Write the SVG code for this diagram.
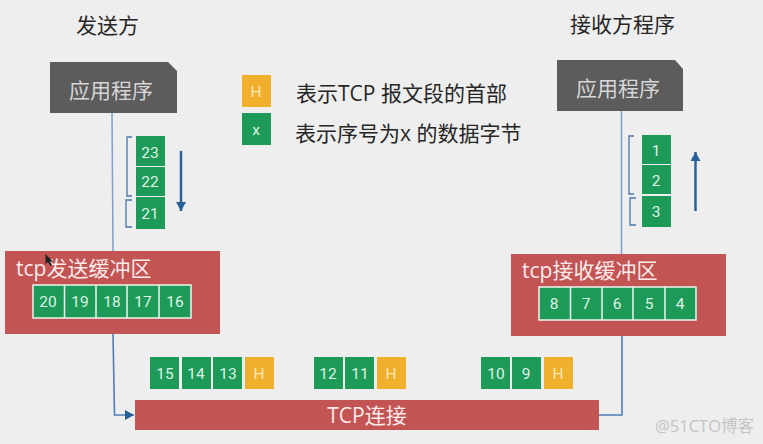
<svg xmlns="http://www.w3.org/2000/svg" width="763" height="444" viewBox="0 0 763 444">
<style>
text{font-family:"Open Sans","Noto Sans CJK SC",sans-serif}
.g{fill:#1e9a58}
.y{fill:#f0b02c}
.r{fill:#c25454}
.d{fill:#5c5c5c}
.c{fill:#dff3e6;font-size:15.500px;font-family:Roboto,sans-serif;text-anchor:middle}
.h{fill:#fae6b8;font-size:15.500px;font-family:Roboto,sans-serif;text-anchor:middle}
.b{fill:#fbeaea;font-size:21px}
.a{fill:#d6d6d6;font-size:21px;text-anchor:middle}
.t{fill:#262626;font-size:21px}
.w{fill:none;stroke:#eef5f0;stroke-width:1.5}
.l{fill:none;stroke:#7f9fcc;stroke-width:1.5}
.n{fill:none;stroke:#4f7cb8;stroke-width:1.6}
.k{fill:none;stroke:#4a76a8;stroke-width:1.3}
.s{fill:none;stroke:#2a6099;stroke-width:2.5}
</style>
<defs>
<marker id="m" markerUnits="userSpaceOnUse" markerWidth="10" markerHeight="10" refX="9" refY="5" orient="auto"><path d="M0 0L9 5L0 10Z" fill="#2a6099"/></marker>
</defs>
<rect width="763" height="444" fill="#eeeeef"/>
<g id="connectors">
<path class="l" d="M112 113L113 251"/>
<path class="n" d="M113 334L114.500 415H134" marker-end="url(#m)"/>
<path class="l" d="M621.500 111V254"/>
<path class="n" d="M622 336V415H599"/>
<path class="s" d="M181 151V211" marker-end="url(#m)"/>
<path class="s" d="M695.500 211V152" marker-end="url(#m)"/>
<path class="k" d="M132 137H127V196H132M132 200H126V227H132"/>
<path class="k" d="M634 136H629V194H634M636 198H630V225H636"/>
</g>
<g id="sender-title"><text class="t" x="76" y="33">发送方</text></g>
<g id="receiver-title"><text class="t" x="570" y="32">接收方程序</text></g>
<g id="sender-app"><path class="d" d="M50 62H168L177 71V113H50Z"/><text class="a" x="111" y="98">应用程序</text></g>
<g id="receiver-app"><path class="d" d="M557 60H675L683 69V111H557Z"/><text class="a" x="618" y="96">应用程序</text></g>
<g id="legend">
<rect class="y" x="242" y="75" width="29" height="32"/><text class="h" x="256" y="97">H</text>
<rect class="g" x="242" y="113" width="29" height="32"/><text class="c" x="256" y="135">x</text>
<text class="t" x="296" y="101">表示TCP 报文段的首部</text>
<text class="t" x="295" y="141">表示序号为x 的数据字节</text>
</g>
<g id="sender-stack">
<rect class="g" x="136" y="136" width="29" height="30"/><text class="c" x="150" y="158">23</text>
<rect class="g" x="136" y="167" width="29" height="29"/><text class="c" x="150" y="187">22</text>
<rect class="g" x="136" y="197" width="29" height="32"/><text class="c" x="150" y="219">21</text>
</g>
<g id="receiver-stack">
<rect class="g" x="642" y="135" width="29" height="29"/><text class="c" x="656" y="156">1</text>
<rect class="g" x="642" y="165" width="29" height="29"/><text class="c" x="656" y="186">2</text>
<rect class="g" x="642" y="196" width="29" height="31"/><text class="c" x="656" y="217">3</text>
</g>
<g id="send-buffer">
<rect class="r" x="5" y="251" width="215" height="83"/>
<text class="b" x="16" y="276">tcp发送缓冲区</text>
<g id="send-cells">
<rect class="g" x="33" y="285" width="158" height="33"/>
<path class="w" d="M33 285H191V318H33ZM64.500 285V318M96 285V318M127 285V318M159 285V318"/>
<text class="c" x="48" y="307">20</text><text class="c" x="80" y="307">19</text><text class="c" x="112" y="307">18</text><text class="c" x="143" y="307">17</text><text class="c" x="175" y="307">16</text>
</g>
</g>
<g id="receive-buffer">
<rect class="r" x="511" y="254" width="215" height="82"/>
<text class="b" x="522" y="278">tcp接收缓冲区</text>
<g id="receive-cells">
<rect class="g" x="539" y="287" width="158" height="33"/>
<path class="w" d="M539 287H696V320H539ZM570.500 287V320M602 287V320M633 287V320M665 287V320"/>
<text class="c" x="554" y="309">8</text><text class="c" x="586" y="309">7</text><text class="c" x="617" y="309">6</text><text class="c" x="649" y="309">5</text><text class="c" x="680" y="309">4</text>
</g>
</g>
<g id="segment-1">
<rect class="g" x="150" y="357" width="29" height="32"/><text class="c" x="165" y="379">15</text>
<rect class="g" x="182" y="357" width="29" height="32"/><text class="c" x="196" y="379">14</text>
<rect class="g" x="213" y="357" width="29" height="32"/><text class="c" x="228" y="379">13</text>
<rect class="y" x="245" y="357" width="29" height="32"/><text class="h" x="259" y="379">H</text>
</g>
<g id="segment-2">
<rect class="g" x="314" y="357" width="29" height="32"/><text class="c" x="328" y="379">12</text>
<rect class="g" x="345" y="357" width="29" height="32"/><text class="c" x="360" y="379">11</text>
<rect class="y" x="377" y="357" width="29" height="32"/><text class="h" x="391" y="379">H</text>
</g>
<g id="segment-3">
<rect class="g" x="481" y="357" width="29" height="32"/><text class="c" x="496" y="379">10</text>
<rect class="g" x="512" y="357" width="29" height="32"/><text class="c" x="526" y="379">9</text>
<rect class="y" x="544" y="357" width="29" height="32"/><text class="h" x="558" y="379">H</text>
</g>
<g id="tcp-connection">
<rect class="r" x="135" y="400" width="464" height="30"/>
<text class="b" x="367" y="423" text-anchor="middle">TCP连接</text>
</g>
<g id="watermark"><text x="655" y="432" font-size="16.500" fill="#c4c4c4">@51CTO博客</text></g>
<path id="cursor" d="M45.500 254V264L48 262L50 266L52 265L50 261.500H53Z" fill="#222222"/>
</svg>
